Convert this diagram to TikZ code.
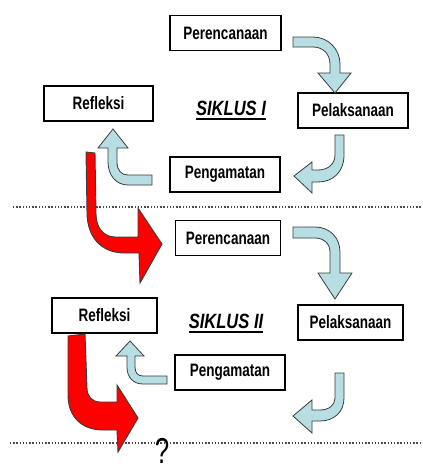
\documentclass[tikz,border=0pt]{standalone}
\usepackage{fontspec}
\newfontfamily\boxfont{Liberation Sans}[FakeStretch=0.75]
\newfontfamily\sikfont{Liberation Sans}[FakeStretch=0.8]
\newfontfamily\qfont{Liberation Sans}[FakeStretch=0.72]
\definecolor{lblue}{RGB}{183,222,226}
\definecolor{edgegray}{RGB}{60,60,60}
\tikzset{
  stagebox/.style={draw=black, line width=0.8pt, fill=white, minimum height=26.25pt, inner sep=0pt,
    font=\boxfont\bfseries\fontsize{13.5}{16}\selectfont},
  siklus/.style={inner sep=0pt, anchor=base, font=\sikfont\bfseries\itshape\fontsize{15.5}{18}\selectfont},
  bluearrow/.style={fill=lblue, draw=edgegray, line width=0.6pt, line join=miter},
  redarrow/.style={fill=red, draw=edgegray, line width=0.7pt, line join=miter},
  dotline/.style={draw=gray!60!black, line width=0.9pt, dash pattern=on 1.1pt off 1.3pt}
}
\begin{document}
\begin{tikzpicture}[x=0.75pt,y=-0.75pt]
\useasboundingbox (0,0) rectangle (423,471);
% boxes
\node[stagebox, minimum width=83.25pt] (per1) at (225.5,33) {Perencanaan};
\node[stagebox, minimum width=81.75pt] (ref1) at (98.5,103.5) {Refleksi};
\node[stagebox, minimum width=82.5pt] (pel1) at (353,110.5) {Pelaksanaan};
\node[stagebox, minimum width=82.5pt] (pen1) at (225,174.5) {Pengamatan};
\node[stagebox, minimum width=78.75pt] (per2) at (228,238) {Perencanaan};
\node[stagebox, minimum width=78.75pt] (ref2) at (104.5,315.5) {Refleksi};
\node[stagebox, minimum width=78.75pt] (pel2) at (350.5,322.5) {Pelaksanaan};
\node[stagebox, minimum width=82.5pt] (pen2) at (230,372.5) {Pengamatan};
% titles
\node[siklus] (sik1) at (231,115) {SIKLUS I};
\draw[line width=2.2pt] ([yshift=-3pt]sik1.base west) -- ([yshift=-3pt]sik1.base east);
\node[siklus] (sik2) at (226,328) {SIKLUS II};
\draw[line width=2.2pt] ([yshift=-3pt]sik2.base west) -- ([yshift=-3pt]sik2.base east);
% blue arrows cycle 1
\path[bluearrow] (293,37) -- (313,37) .. controls (328,37) and (340,49) .. (340,64) -- (340,73) -- (351,73) -- (335,93) -- (318,73) -- (330,73) -- (330,64) .. controls (330,54) and (323,47) .. (313,47) -- (293,47) -- cycle;
\path[bluearrow] (335,135) -- (344,135) -- (344,155) .. controls (344,172) and (333,182) .. (318,182) -- (312,182) -- (312,193) -- (294,176) -- (312,162) -- (312,170) -- (318,170) .. controls (328,170) and (335,164) .. (335,155) -- cycle;
\path[bluearrow] (152,175) -- (152,185) -- (128,185) .. controls (116,185) and (108,175) .. (108,162) -- (108,148) -- (98,148) -- (113,129) -- (128,148) -- (117,148) -- (117,162) .. controls (117,170) and (121,175) .. (128,175) -- cycle;
% blue arrows cycle 2
\path[bluearrow] (293,227) -- (315,227) .. controls (330,227) and (340,238) .. (340,252) -- (340,273) -- (352,273) -- (335,299) -- (318,273) -- (330,273) -- (330,252) .. controls (330,243) and (323,238) .. (315,238) -- (293,238) -- cycle;
\path[bluearrow] (335,373) -- (344,373) -- (344,398) .. controls (344,412) and (334,421) .. (320,421) -- (312,421) -- (312,433) -- (293,416) -- (312,400) -- (312,410) -- (320,410) .. controls (329,410) and (335,405) .. (335,398) -- cycle;
\path[bluearrow] (167,376) -- (167,384) -- (143,384) .. controls (133,384) and (127,377) .. (127,367) -- (127,356) -- (116,356) -- (130,341) -- (144,356) -- (135,356) -- (135,367) .. controls (135,373) and (138,376) .. (143,376) -- cycle;
% red arrows
\path[redarrow] (86,152) -- (87,212) .. controls (87,236) and (100,253) .. (125,253) -- (139,253) -- (140,283) -- (162,244) -- (138,208) -- (138,237) -- (115,237) .. controls (104,237) and (96,228) .. (96,214) -- (95,153) -- cycle;
\path[redarrow] (68,336) -- (68,395) .. controls (68,417) and (82,430) .. (103,430) -- (117,430) -- (118,452) -- (138,418) -- (117,385) -- (117,402) -- (100,402) .. controls (92,402) and (87,396) .. (87,388) -- (85,334) -- cycle;
% dotted separators
\coordinate (d1a) at (13,207);
\coordinate (d1b) at (423,207);
\coordinate (d2a) at (10,443);
\coordinate (d2b) at (423,443);
\draw[dotline] (d1a) -- (d1b);
\draw[dotline] (d2a) -- (d2b);
% question mark
\node[inner sep=0pt, anchor=base, font=\qfont\fontsize{27}{27}\selectfont] (q) at (162,463) {?};
\end{tikzpicture}
\end{document}
